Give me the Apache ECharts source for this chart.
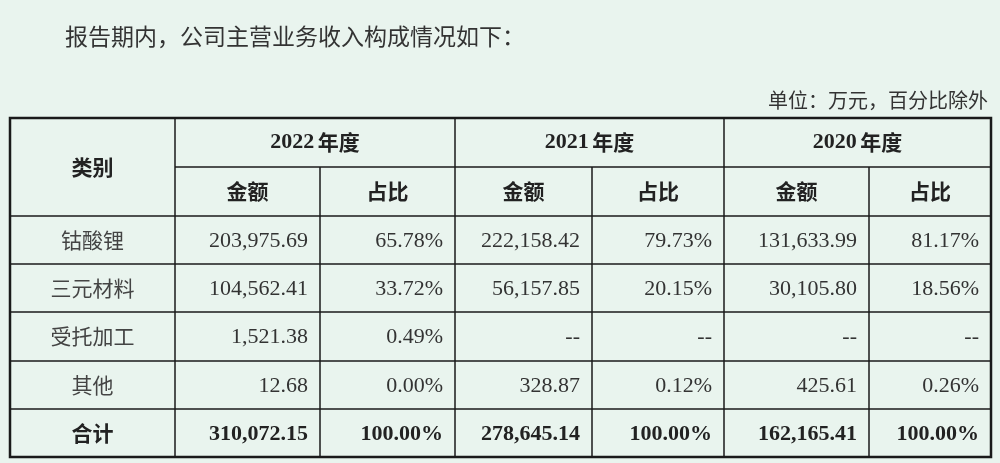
<!DOCTYPE html>
<html>
<head>
<meta charset="utf-8">
<script src="https://cdn.jsdelivr.net/npm/echarts@6/dist/echarts.min.js"></script>
<style>html,body{margin:0;padding:0;background:#e9f4ee;}#main{width:1000px;height:463px;}</style>
</head>
<body>
<div id="main"></div>
<script>
// 表格数据
const years = ['2022 年度', '2021 年度', '2020 年度'];
const subHeads = ['金额', '占比'];
const categories = ['钴酸锂', '三元材料', '受托加工', '其他', '合计'];
const amount2022 = ['203,975.69', '104,562.41', '1,521.38', '12.68', '310,072.15'];
const ratio2022 = ['65.78%', '33.72%', '0.49%', '0.00%', '100.00%'];
const amount2021 = ['222,158.42', '56,157.85', '--', '328.87', '278,645.14'];
const ratio2021 = ['79.73%', '20.15%', '--', '0.12%', '100.00%'];
const amount2020 = ['131,633.99', '30,105.80', '--', '425.61', '162,165.41'];
const ratio2020 = ['81.17%', '18.56%', '--', '0.26%', '100.00%'];

// 布局
var colX = [10, 175, 320, 455, 592, 724, 869, 991];
var rowY = [118, 167, 216, 264, 312, 361, 409, 457];
var CJK = '"Noto Sans CJK SC", sans-serif';
var SERIF = '"Liberation Serif", "DejaVu Serif", serif';
var LINE = '#1a1a1a';

var chartDom = document.getElementById('main');
var myChart = echarts.init(chartDom);
var els = [];

function text(x, y, str, opt) {
    els.push({
        type: 'text', x: x, y: y,
        style: Object.assign({
            text: str, fill: '#222', fontSize: 21, fontFamily: CJK,
            align: 'center', verticalAlign: 'middle'
        }, opt || {})
    });
}
function line(x1, y1, x2, y2, w) {
    els.push({ type: 'line', shape: { x1: x1, y1: y1, x2: x2, y2: y2 }, style: { stroke: LINE, lineWidth: w || 1.5 } });
}

text(65, 36, '报告期内，公司主营业务收入构成情况如下：', { align: 'left', fontSize: 23, fill: '#333' });
text(988, 100, '单位：万元，百分比除外', { align: 'right', fontSize: 20, fill: '#333' });

// 边框
els.push({ type: 'rect', shape: { x: colX[0], y: rowY[0], width: colX[7] - colX[0], height: rowY[7] - rowY[0] },
    style: { fill: 'none', stroke: LINE, lineWidth: 2.5 } });
line(colX[1], rowY[1], colX[7], rowY[1]);
for (var r = 2; r < 7; r++) line(colX[0], rowY[r], colX[7], rowY[r]);
for (var c = 1; c < 7; c++) line(colX[c], (c % 2 === 0) ? rowY[1] : rowY[0], colX[c], rowY[7]);

// 表头
text((colX[0] + colX[1]) / 2, (rowY[0] + rowY[2]) / 2, '类别', { fontWeight: 'bold' });
years.forEach(function (y, i) {
    var parts = y.split(' ');
    var cx = (colX[1 + 2 * i] + colX[3 + 2 * i]) / 2, cy = (rowY[0] + rowY[1]) / 2;
    els.push({ type: 'text', x: cx, y: cy, style: {
        text: '{n|' + parts[0] + '} {c|' + parts[1] + '}', align: 'center', verticalAlign: 'middle',
        rich: { n: { fontFamily: SERIF, fontWeight: 'bold', fontSize: 22, fill: '#222' },
                c: { fontFamily: CJK, fontWeight: 'bold', fontSize: 21, fill: '#222' } } } });
    subHeads.forEach(function (s, j) {
        var k = 1 + 2 * i + j;
        text((colX[k] + colX[k + 1]) / 2, (rowY[1] + rowY[2]) / 2, s, { fontWeight: 'bold' });
    });
});

// 数据行
var cols = [amount2022, ratio2022, amount2021, ratio2021, amount2020, ratio2020];
categories.forEach(function (name, r) {
    var cy = (rowY[r + 2] + rowY[r + 3]) / 2;
    var bold = r === categories.length - 1;
    text((colX[0] + colX[1]) / 2, cy, name, { fontWeight: bold ? 'bold' : 'normal', fill: bold ? '#222' : '#444' });
    cols.forEach(function (arr, k) {
        text(colX[k + 2] - 12, cy + 1, arr[r], { align: 'right', fontFamily: SERIF, fontSize: 22,
            fontWeight: bold ? 'bold' : 'normal', fill: bold ? '#222' : '#333' });
    });
});

var option = { backgroundColor: '#e9f4ee', graphic: { elements: els } };
myChart.setOption(option);
</script>
</body>
</html>
